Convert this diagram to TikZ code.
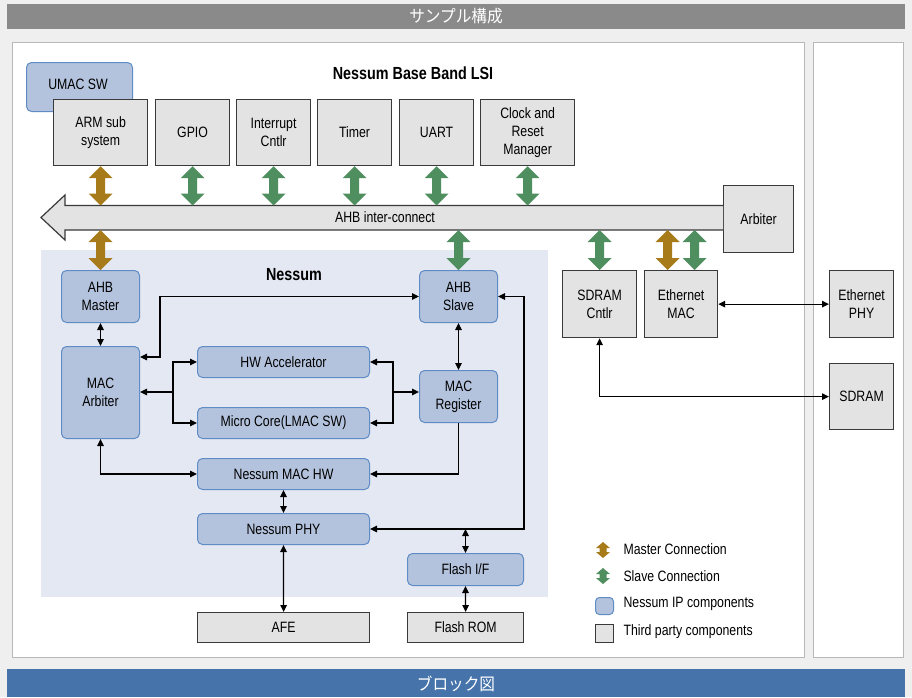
\documentclass[tikz,border=0pt]{standalone}
\usepackage{fontspec}
\setmainfont{Liberation Sans}[FakeStretch=0.82]
\newfontfamily\cjk{Noto Sans CJK JP}[FakeStretch=0.92]
\usetikzlibrary{arrows.meta,calc}
\definecolor{bgc}{HTML}{EFEFEF}
\definecolor{topbar}{HTML}{8A8A8A}
\definecolor{botbar}{HTML}{4573AA}
\definecolor{panelb}{HTML}{B8B8B8}
\definecolor{nessreg}{HTML}{E4E8F3}
\definecolor{bfill}{HTML}{B4C3DD}
\definecolor{bborder}{HTML}{5F8CC4}
\definecolor{gfill}{HTML}{E4E3E4}
\definecolor{gborder}{HTML}{3A3A3A}
\definecolor{gold}{HTML}{A87B1A}
\definecolor{grn}{HTML}{4F8E5F}
\newcommand\fatarrg[7]{\fill[#1] let \p3=(#2), \p1=(#3), \p2=(#4) in
 (\x3,\y1) -- (\x3+#5,\y1-#7) -- (\x3+#6,\y1-#7) -- (\x3+#6,\y2+#7) -- (\x3+#5,\y2+#7) -- (\x3,\y2)
 -- (\x3-#5,\y2+#7) -- (\x3-#6,\y2+#7) -- (\x3-#6,\y1-#7) -- (\x3-#5,\y1-#7) -- cycle;}
\newcommand\fatarr[4]{\fatarrg{#1}{#2}{#3}{#4}{12pt}{4.5pt}{12pt}}
\tikzset{
 every node/.style={font=\fontsize{15}{18}\selectfont},
 gbox/.style={draw=gborder, fill=gfill, line width=1.2, inner sep=0, align=center, anchor=north west},
 bbox/.style={draw=bborder, fill=bfill, line width=1, rounded corners=5, inner sep=0, align=center, anchor=north west},
 conn/.style={line width=1.2, black, arrows={-}},
 tip/.tip={Triangle[length=7pt,width=6.5pt]},
 hdr/.style={text=white, font=\cjk\fontsize{17}{18}\selectfont},
 ttl/.style={font=\bfseries\fontsize{17.5}{18}\selectfont},
 lgt/.style={anchor=west, font=\fontsize{15}{18}\selectfont}
}
\begin{document}
\begin{tikzpicture}[x=1pt,y=-1pt]
\useasboundingbox (0,0) rectangle (912,697);
\fill[bgc] (0,0) rectangle (912,697);
% header / footer bars
\fill[topbar] (7,4) rectangle (905,29);
\node[hdr] (toptitle) at (456,16.5) {サンプル構成};
\fill[botbar] (7,669) rectangle (905,697);
\node[hdr] (bottitle) at (456,683.5) {ブロック図};
% panels
\draw[panelb, fill=white, line width=1] (12,42) rectangle (804,657);
\draw[panelb, fill=white, line width=1] (813,42) rectangle (903,657);
% Nessum region
\fill[nessreg] (41,250) rectangle (548,597);
\node[ttl] (lsititle) at (413,73) {Nessum Base Band LSI};
\node[ttl] (nesstitle) at (294,275) {Nessum};
% top row
\node[bbox, minimum width=106, minimum height=49] (umac) at (26,62) {};
\node (umaclbl) at (78,84) {UMAC SW};
\node[gbox, minimum width=94, minimum height=66] (arm) at (53,99) {ARM sub\\system};
\node[gbox, minimum width=74, minimum height=66] (gpio) at (155,99) {GPIO};
\node[gbox, minimum width=74, minimum height=66] (intr) at (236,99) {Interrupt\\Cntlr};
\node[gbox, minimum width=74, minimum height=66] (timer) at (317,99) {Timer};
\node[gbox, minimum width=74, minimum height=66] (uart) at (399,99) {UART};
\node[gbox, minimum width=94, minimum height=66] (clock) at (480,99) {Clock and\\Reset\\Manager};
% arbiter and bus
\node[gbox, minimum width=70, minimum height=67] (arbiter) at (723,185) {Arbiter};
\coordinate (bt) at (0,205.5);
\coordinate (bb) at (0,230);
\filldraw[fill=gfill, draw=gborder, line width=1.2]
  (arbiter.west |- bt) -- (65,205.5) -- (65,195) -- (41,217.5) -- (65,240) -- (65,230) -- (arbiter.west |- bb);
\node (buslbl) at (385,217.5) {AHB inter-connect};
% Nessum nodes
\node[bbox, minimum width=78, minimum height=52] (ahbm) at (61,270) {AHB\\Master};
\node[bbox, minimum width=78, minimum height=92] (macarb) at (61,346) {MAC\\Arbiter};
\node[bbox, minimum width=172, minimum height=31] (hwacc) at (197,346) {HW Accelerator};
\node[bbox, minimum width=172, minimum height=31] (micro) at (197,407) {Micro Core(LMAC SW)};
\node[bbox, minimum width=78, minimum height=52] (ahbs) at (419,270) {AHB\\Slave};
\node[bbox, minimum width=78, minimum height=52] (macreg) at (419,370) {MAC\\Register};
\node[bbox, minimum width=172, minimum height=31] (machw) at (197,458) {Nessum MAC HW};
\node[bbox, minimum width=172, minimum height=31] (phy) at (197,513) {Nessum PHY};
\node[bbox, minimum width=116, minimum height=32] (flashif) at (407,553) {Flash I/F};
\node[gbox, minimum width=172, minimum height=30] (afe) at (197,612) {AFE};
\node[gbox, minimum width=116, minimum height=30] (flashrom) at (407,612) {Flash ROM};
% right side
\node[gbox, minimum width=74, minimum height=67] (sdramc) at (562,270) {SDRAM\\Cntlr};
\node[gbox, minimum width=73, minimum height=67] (ethmac) at (644,270) {Ethernet\\MAC};
\node[gbox, minimum width=64, minimum height=67] (ethphy) at (829,270) {Ethernet\\PHY};
\node[gbox, minimum width=64, minimum height=66] (sdram) at (829,363) {SDRAM};
% fat arrows
\fatarr{gold}{arm.south}{arm.south}{bt}
\fatarr{grn}{gpio.south}{gpio.south}{bt}
\fatarr{grn}{intr.south}{intr.south}{bt}
\fatarr{grn}{timer.south}{timer.south}{bt}
\fatarr{grn}{uart.south}{uart.south}{bt}
\fatarr{grn}{clock.south}{clock.south}{bt}
\fatarr{gold}{ahbm.north}{bb}{ahbm.north}
\fatarr{grn}{ahbs.north}{bb}{ahbs.north}
\fatarr{grn}{sdramc.north}{bb}{sdramc.north}
\fatarr{gold}{[xshift=-13.5pt]ethmac.north}{bb}{ethmac.north}
\fatarr{grn}{[xshift=13.5pt]ethmac.north}{bb}{ethmac.north}
% thin connectors
\draw[conn, tip-tip] (ahbm.south) -- (macarb.north);
\draw[conn, tip-tip] ([yshift=-11pt]macarb.north east) -- ++(20,0) |- (ahbs.west);
\coordinate (jl) at (173,392);
\coordinate (jr) at (393,392);
\draw[conn, -tip] (jl) |- (hwacc.west);
\draw[conn, -tip] (jl) |- (micro.west);
\draw[conn, -tip] (jl) -- (macarb.east |- jl);
\draw[conn, -tip] (jr) |- (hwacc.east);
\draw[conn, -tip] (jr) |- (micro.east);
\draw[conn, -tip] (jr) -- (macreg.west |- jr);
\draw[conn, tip-tip] (ahbs.south) -- (macreg.north);
\draw[conn, tip-tip] (macarb.south) |- (machw.west);
\draw[conn, -tip] (macreg.south) |- (machw.east);
\draw[conn, tip-tip] (machw.south) -- (phy.north);
\draw[conn, tip-tip] (ahbs.east) -- ++(26,0) |- (phy.east);
\draw[conn, tip-tip] (flashif.north |- phy.east) -- (flashif.north);
\draw[conn, tip-tip] (flashif.south) -- (flashrom.north);
\draw[conn, tip-tip] (phy.south) -- (afe.north);
\draw[conn, tip-tip] (ethmac.east) -- (ethphy.west);
\draw[conn, tip-tip] (sdramc.south) |- (sdram.west);
% legend
\coordinate (l1t) at (603,542); \coordinate (l1b) at (603,558);
\coordinate (l2t) at (603,568); \coordinate (l2b) at (603,584);
\fatarrg{gold}{l1t}{l1t}{l1b}{7pt}{3.5pt}{6pt}
\fatarrg{grn}{l2t}{l2t}{l2b}{7pt}{3.5pt}{6pt}
\node[draw=bborder, fill=bfill, line width=1, rounded corners=4, minimum width=18, minimum height=17, inner sep=0, anchor=north west] (lgb) at (595,597) {};
\node[draw=gborder, fill=gfill, line width=1.2, minimum width=18, minimum height=18, inner sep=0, anchor=north west] (lgg) at (595,624) {};
\node[lgt] (lt1) at (620,549.5) {Master Connection};
\node[lgt] (lt2) at (620,576.5) {Slave Connection};
\node[lgt] (lt3) at (620,604) {Nessum IP components};
\node[lgt] (lt4) at (620,632) {Third party components};
\end{tikzpicture}
\end{document}
